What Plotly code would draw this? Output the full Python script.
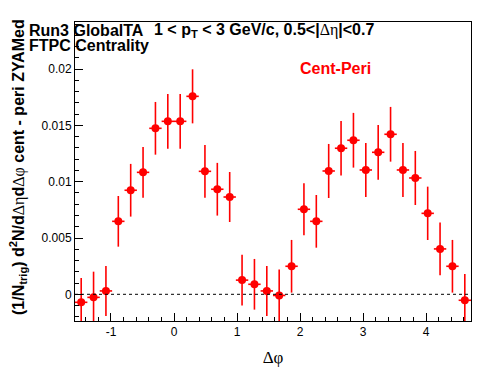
import plotly.graph_objects as go

dphi = [-1.4726, -1.2763, -1.0799, -0.8836, -0.6872, -0.4909, -0.2945, -0.0982,
        0.0982, 0.2945, 0.4909, 0.6872, 0.8836, 1.0799, 1.2763, 1.4726,
        1.6690, 1.8653, 2.0617, 2.2580, 2.4544, 2.6507, 2.8471, 3.0434,
        3.2398, 3.4361, 3.6325, 3.8288, 4.0252, 4.2215, 4.4179, 4.6142]
half_bin = [0.0982] * 32
yields = [-0.00071, -0.00027, 0.00030, 0.00648, 0.00924, 0.01083, 0.01474, 0.01536,
          0.01536, 0.01758, 0.01092, 0.00933, 0.00864, 0.00126, 0.00089, 0.00030,
          -0.00010, 0.00249, 0.00755, 0.00648, 0.01095, 0.01297, 0.01368, 0.01104,
          0.01261, 0.01421, 0.01104, 0.01033, 0.00719, 0.00403, 0.00249, -0.00053]
errors = [0.00216, 0.00228, 0.00222, 0.00225, 0.00234, 0.00225, 0.00234, 0.00243,
          0.00243, 0.00240, 0.00234, 0.00234, 0.00222, 0.00225, 0.00225, 0.00222,
          0.00231, 0.00234, 0.00231, 0.00234, 0.00240, 0.00243, 0.00243, 0.00240,
          0.00243, 0.00243, 0.00240, 0.00240, 0.00237, 0.00234, 0.00234, 0.00234]

x_tickvals = [-1, 0, 1, 2, 3, 4]
x_ticktext = ["-1", "0", "1", "2", "3", "4"]
y_tickvals = [0, 0.005, 0.01, 0.015, 0.02]
y_ticktext = ["0", "0.005", "0.01", "0.015", "0.02"]

# the page adds an 8px body margin, so the figure is drawn offset by (8, 8)
OFF = 8
W, H = 496, 374
L, T = 75 - OFF, 22 - OFF
pw, ph = 396, 299
R, B = W - L - pw, H - T - ph

def px(x):
    return (x - OFF - L) / pw

def py(y):
    return (T + ph - (y - OFF)) / ph

fig = go.Figure()
fig.add_trace(go.Scatter(
    x=dphi, y=yields, mode="markers",
    marker=dict(color="#ff0000", size=8, symbol="circle"),
    error_x=dict(type="data", array=half_bin, color="#ff0000", thickness=1.6, width=0),
    error_y=dict(type="data", array=errors, color="#ff0000", thickness=1.6, width=0),
    showlegend=False,
))
fig.add_hline(y=0, line=dict(color="black", width=1, dash="3px,3px"))

sans = "Liberation Sans, Arial, sans-serif"
axis_common = dict(
    showline=True, mirror=True, linecolor="black", linewidth=1,
    showgrid=False, zeroline=False,
    ticks="inside", ticklen=8, tickwidth=1, tickcolor="black",
    tickfont=dict(family=sans, size=12, color="black"),
)
fig.update_xaxes(
    range=[-1.5708, 4.7124], tickmode="array", tickvals=x_tickvals, ticktext=x_ticktext,
    minor=dict(tickmode="linear", tick0=0, dtick=0.2, ticks="inside", ticklen=4,
               tickcolor="black", tickwidth=1, showgrid=False),
    title=dict(text="Δφ", font=dict(family="Liberation Serif, Times New Roman, serif",
                                    size=17, color="black"), standoff=12),
    **axis_common,
)
fig.update_yaxes(
    range=[-0.00237, 0.02418], tickmode="array", tickvals=y_tickvals, ticktext=y_ticktext,
    minor=dict(tickmode="linear", tick0=0, dtick=0.001, ticks="inside", ticklen=4,
               tickcolor="black", tickwidth=1, showgrid=False),
    **axis_common,
)

greek = "<span style='font-family:Liberation Serif;font-weight:normal'>"
fig.add_annotation(
    xref="paper", yref="paper", x=px(18), y=py(167), xanchor="center", yanchor="middle",
    textangle=-90, showarrow=False,
    text="<b>(1/N<sub>trig</sub>) d<sup>2</sup>N/d" + greek + "Δη</span>d" + greek +
         "Δφ</span> cent - peri ZYAMed</b>",
    font=dict(family=sans, size=16, color="black"),
)
fig.add_annotation(
    xref="paper", yref="paper", x=px(27), y=py(31), xanchor="left", yanchor="middle",
    showarrow=False, text="<b>Run3 GlobalTA</b>",
    font=dict(family=sans, size=16, color="black"),
)
fig.add_annotation(
    xref="paper", yref="paper", x=px(27), y=py(45.5), xanchor="left", yanchor="middle",
    showarrow=False, text="<b>FTPC Centrality</b>",
    font=dict(family=sans, size=16, color="black"),
)
fig.add_annotation(
    xref="paper", yref="paper", x=px(152), y=py(31), xanchor="left", yanchor="middle",
    showarrow=False,
    text="<b>1 < p<sub>T</sub> < 3 GeV/c, 0.5<|" + greek + "Δη</span>|<0.7</b>",
    font=dict(family=sans, size=16, color="black"),
)
fig.add_annotation(
    xref="paper", yref="paper", x=px(298), y=py(68), xanchor="left", yanchor="middle",
    showarrow=False, text="<b>Cent-Peri</b>",
    font=dict(family=sans, size=16, color="#ff0000"),
)

fig.update_layout(
    width=W, height=H,
    margin=dict(l=L, r=R, t=T, b=B, autoexpand=False),
    paper_bgcolor="white", plot_bgcolor="white",
    font=dict(family=sans, color="black"),
)
fig.write_html("out.html")
